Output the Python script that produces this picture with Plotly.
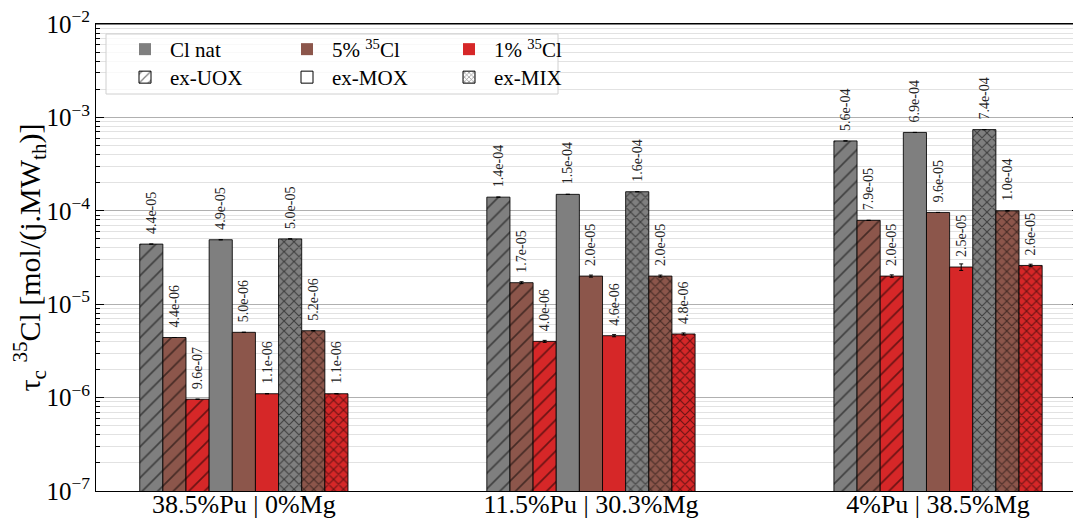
import plotly.graph_objects as go

groups = ["38.5%Pu | 0%Mg", "11.5%Pu | 30.3%Mg", "4%Pu | 38.5%Mg"]

uox_nat = [4.4e-05, 1.4e-04, 5.6e-04]
uox_5 = [4.4e-06, 1.7e-05, 7.9e-05]
uox_1 = [9.6e-07, 4.0e-06, 2.0e-05]
mox_nat = [4.9e-05, 1.5e-04, 6.9e-04]
mox_5 = [5.0e-06, 2.0e-05, 9.6e-05]
mox_1 = [1.1e-06, 4.6e-06, 2.5e-05]
mix_nat = [5.0e-05, 1.6e-04, 7.4e-04]
mix_5 = [5.2e-06, 2.0e-05, 1.0e-04]
mix_1 = [1.1e-06, 4.8e-06, 2.6e-05]

uox_nat_err = [0, 0, 0]
uox_5_err = [0, 0.4e-06, 0]
uox_1_err = [0, 0.1e-06, 0.6e-06]
mox_nat_err = [0, 0, 0]
mox_5_err = [0, 0.5e-06, 0]
mox_1_err = [0, 0.12e-06, 2.0e-06]
mix_nat_err = [0, 0, 0]
mix_5_err = [0, 0.5e-06, 0]
mix_1_err = [0, 0.12e-06, 0.8e-06]

enrich_names = ["Cl nat", "5% <sup>35</sup>Cl", "1% <sup>35</sup>Cl"]
fuel_names = ["ex-UOX", "ex-MOX", "ex-MIX"]
colors = ["#7f7f7f", "#8c564b", "#d62728"]
patterns = ["/", "", "x"]
pat_sizes = [11, 8, 7]
pat_sol = [0.15, 0.1, 0.3]

series = [
    [(uox_nat, uox_nat_err), (uox_5, uox_5_err), (uox_1, uox_1_err)],
    [(mox_nat, mox_nat_err), (mox_5, mox_5_err), (mox_1, mox_1_err)],
    [(mix_nat, mix_nat_err), (mix_5, mix_5_err), (mix_1, mix_1_err)],
]

FONT = "'Liberation Serif', 'Times New Roman', 'DejaVu Serif', serif"

fig = go.Figure()
for fi, fuel in enumerate(series):
    for ei, (vals, errs) in enumerate(fuel):
        pat = dict(shape=patterns[fi], fgcolor="black", bgcolor=colors[ei],
                   size=pat_sizes[fi], solidity=pat_sol[fi]) if patterns[fi] else dict(shape="")
        fig.add_trace(go.Bar(
            x=groups, y=vals,
            offsetgroup=f"g{fi}{ei}",
            marker=dict(color=colors[ei], line=dict(color="rgba(0,0,0,0.85)", width=1), pattern=pat),
            error_y=dict(type="data", array=errs, visible=True, color="black", thickness=1, width=2),
            text=["\u00a0\u00a0" + f"{v:.1e}" for v in vals],
            textposition="outside", textangle=-90,
            textfont=dict(family=FONT, size=14, color="#222"),
            constraintext="none", cliponaxis=False,
            showlegend=False,
        ))

# legend entries: colours
for ei in range(3):
    fig.add_trace(go.Bar(
        x=[groups[0]], y=[None], offsetgroup=f"g0{ei}", name=enrich_names[ei],
        marker=dict(color=colors[ei], line=dict(color=colors[ei], width=0)),
        showlegend=True, legend="legend",
    ))
# legend entries: hatches
for fi in range(3):
    pat = dict(shape=patterns[fi], fgcolor="black", bgcolor="white",
               size=pat_sizes[fi] - 3, solidity=pat_sol[fi] + 0.05) if patterns[fi] else dict(shape="")
    fig.add_trace(go.Bar(
        x=[groups[0]], y=[None], offsetgroup=f"g{fi}0", name=fuel_names[fi],
        marker=dict(color="white", line=dict(color="black", width=1), pattern=pat),
        showlegend=True, legend="legend2",
    ))

# the page body adds an 8px offset; compensate so the plot lands at x 96..1080, y 24..491
OFF = 8
W, H = 1081 - OFF, 520 - OFF
L, R, T, B = 96 - OFF, 1, 24 - OFF, 29
pw, ph = W - L - R, H - T - B


def px(x):
    return (x - OFF - L) / pw


def py(y):
    return 1 - (y - OFF - T) / ph


fig.add_shape(type="rect", xref="paper", yref="paper",
              x0=px(106), x1=px(558), y0=py(94), y1=py(34),
              fillcolor="rgba(255,255,255,0.8)", line=dict(color="#d0d0d0", width=1),
              layer="above")
fig.add_shape(type="line", xref="paper", yref="paper", x0=0, x1=1, y0=1, y1=1,
              line=dict(color="black", width=1), layer="above")

ytickvals = [1e-7, 1e-6, 1e-5, 1e-4, 1e-3, 1e-2]
yticktext = ["10<sup>\u22127</sup>", "10<sup>\u22126</sup>", "10<sup>\u22125</sup>",
             "10<sup>\u22124</sup>", "10<sup>\u22123</sup>", "10<sup>\u22122</sup>"]

fig.update_layout(
    width=W, height=H,
    margin=dict(l=L, r=R, t=T, b=B, pad=0),
    paper_bgcolor="white", plot_bgcolor="white",
    font=dict(family=FONT, color="black", size=20),
    barmode="group", bargap=0.4, bargroupgap=0,
    legend=dict(orientation="h", x=px(120), y=py(29), xanchor="left", yanchor="top",
                entrywidth=107, entrywidthmode="pixels", bgcolor="rgba(0,0,0,0)",
                font=dict(family=FONT, size=21), itemwidth=40),
    legend2=dict(orientation="h", x=px(120), y=py(57), xanchor="left", yanchor="top",
                 entrywidth=107, entrywidthmode="pixels", bgcolor="rgba(0,0,0,0)",
                 font=dict(family=FONT, size=21), itemwidth=40),
    xaxis=dict(type="category", range=[-0.426, 2.409], showline=True, linecolor="black",
               linewidth=1, mirror=True, ticks="", ticklen=0, showgrid=False,
               tickfont=dict(family=FONT, size=26), automargin=False,
               ticklabelstandoff=-10, ticklabeloverflow="allow"),
    yaxis=dict(type="log", range=[-7, -2], showline=True, linecolor="black", linewidth=1,
               mirror="ticks", ticks="inside", ticklen=8, tickcolor="black",
               tickvals=ytickvals, ticktext=yticktext,
               tickfont=dict(family=FONT, size=25), ticklabeloverflow="allow",
               showgrid=True, gridcolor="#b0b0b0", gridwidth=1,
               minor=dict(dtick="D1", ticks="inside", ticklen=4, tickcolor="black",
                          showgrid=True, gridcolor="#e2e2e2", gridwidth=1),
               title=dict(text="\u03c4<sub>c</sub> <sup>35</sup>Cl [mol/(j.MW<sub>th</sub>)]",
                          font=dict(family=FONT, size=30), standoff=2),
               automargin=False, zeroline=False),
)

fig.write_html("out.html")
